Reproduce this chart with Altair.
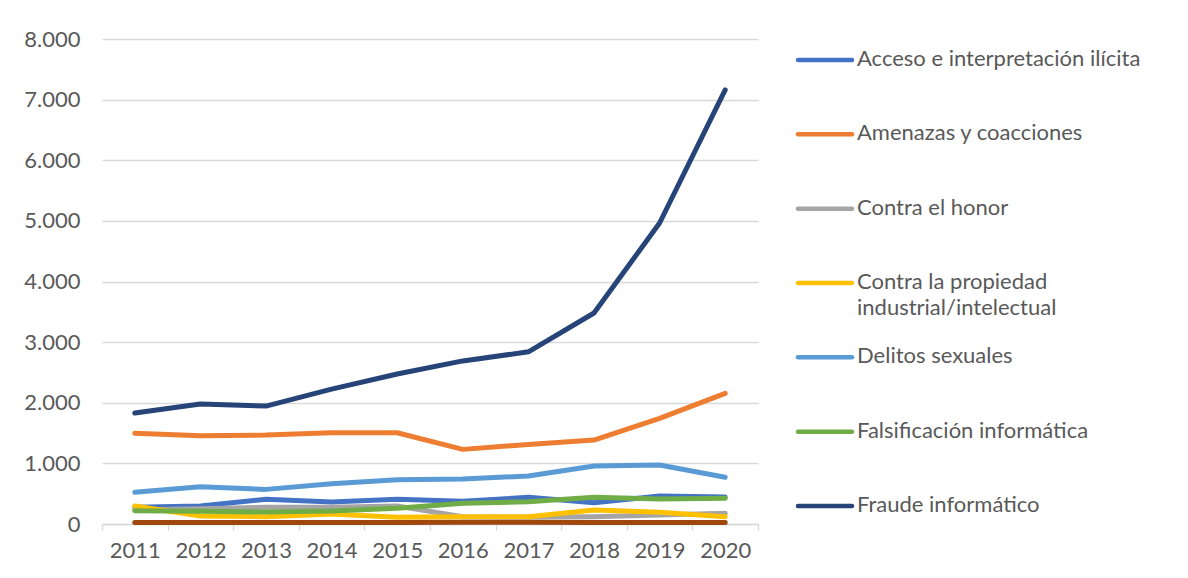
import altair as alt
import pandas as pd

years = [2011, 2012, 2013, 2014, 2015, 2016, 2017, 2018, 2019, 2020]

series_names = [
    "Acceso e interpretación ilícita",
    "Amenazas y coacciones",
    "Contra el honor",
    "Contra la propiedad industrial/intelectual",
    "Delitos sexuales",
    "Falsificación informática",
    "Fraude informático",
    "Interferencia en los datos y en el sistema",
]
legend_labels = [
    "Acceso e interpretación ilícita",
    "Amenazas y coacciones",
    "Contra el honor",
    "Contra la propiedad\nindustrial/intelectual",
    "Delitos sexuales",
    "Falsificación informática",
    "Fraude informático",
]
colors = ["#4472C4", "#ED7D31", "#A5A5A5", "#FFC000", "#5B9BD5", "#70AD47", "#264478", "#9E480E"]

acceso = [275, 297, 407, 363, 407, 374, 440, 350, 462, 445]
amenazas = [1495, 1456, 1467, 1505, 1505, 1231, 1313, 1385, 1742, 2154]
honor = [230, 250, 275, 275, 297, 120, 115, 120, 148, 176]
propiedad = [297, 132, 121, 165, 110, 121, 121, 231, 193, 121]
delitos = [522, 615, 571, 665, 731, 742, 792, 957, 973, 770]
falsificacion = [220, 210, 198, 214, 258, 341, 368, 440, 412, 423]
fraude = [1830, 1980, 1945, 2225, 2475, 2690, 2840, 3480, 4965, 7160]
interferencia = [25, 25, 25, 25, 25, 30, 28, 25, 25, 25]

y_ticks = [0, 1000, 2000, 3000, 4000, 5000, 6000, 7000, 8000]

all_values = [acceso, amenazas, honor, propiedad, delitos, falsificacion, fraude, interferencia]
rows = []
for i, (name, vals) in enumerate(zip(series_names, all_values)):
    for yr, v in zip(years, vals):
        rows.append({"Año": str(yr), "Serie": name, "Valor": v, "orden": i})
df = pd.DataFrame(rows)

FONT = "Lato"
TXT = "#595959"
GRID = "#D9D9D9"

color_scale = alt.Scale(domain=series_names, range=colors)

lines = alt.Chart(df).mark_line(strokeWidth=5, strokeCap="round", strokeJoin="round").encode(
    x=alt.X("Año:O", title=None,
            scale=alt.Scale(type="band", paddingInner=0, paddingOuter=0),
            axis=alt.Axis(labelAngle=0, tickBand="extent", ticks=True, tickSize=6,
                          tickColor=GRID, domainColor=GRID, domainWidth=1.3, tickWidth=1.3,
                          labelPadding=10, labelFontSize=22, labelColor=TXT, labelFont=FONT,
                          grid=False)),
    y=alt.Y("Valor:Q", title=None,
            scale=alt.Scale(domain=[0, 8000], nice=False),
            axis=alt.Axis(values=y_ticks, domain=False, ticks=False, tickSize=0,
                          labelPadding=22, labelFontSize=22, labelColor=TXT, labelFont=FONT,
                          gridColor=GRID, gridWidth=1.3,
                          labelExpr="replace(format(datum.value, ',d'), ',', '.')")),
    color=alt.Color("Serie:N", scale=color_scale, legend=None),
    detail="orden:O",
).properties(width=656, height=485)

leg_df = pd.DataFrame({"Serie": series_names[:7], "Etiqueta": legend_labels})

leg_y = alt.Y("Serie:N", sort=series_names[:7], axis=None,
              scale=alt.Scale(type="point", padding=0, range=[21, 467]))

leg_rules = alt.Chart(leg_df).mark_rule(strokeWidth=4.5, strokeCap="round").encode(
    x=alt.value(20), x2=alt.value(74), y=leg_y,
    color=alt.Color("Serie:N", scale=color_scale, legend=None),
)
leg_text = alt.Chart(leg_df).mark_text(
    align="left", baseline="top", dx=0, dy=-11, font=FONT, fontSize=22,
    color=TXT, lineBreak="\n", lineHeight=26,
).encode(
    x=alt.value(79), y=leg_y, text="Etiqueta:N",
)
legend_panel = alt.layer(leg_rules, leg_text).properties(width=400, height=485)

chart = alt.hconcat(lines, legend_panel, spacing=20, bounds="flush").properties(
    padding={"left": 15, "top": 20, "right": 0, "bottom": 0},
    background="white",
).configure_view(strokeWidth=0)

chart.save("out.html", embed_options={"renderer": "svg", "actions": False})
